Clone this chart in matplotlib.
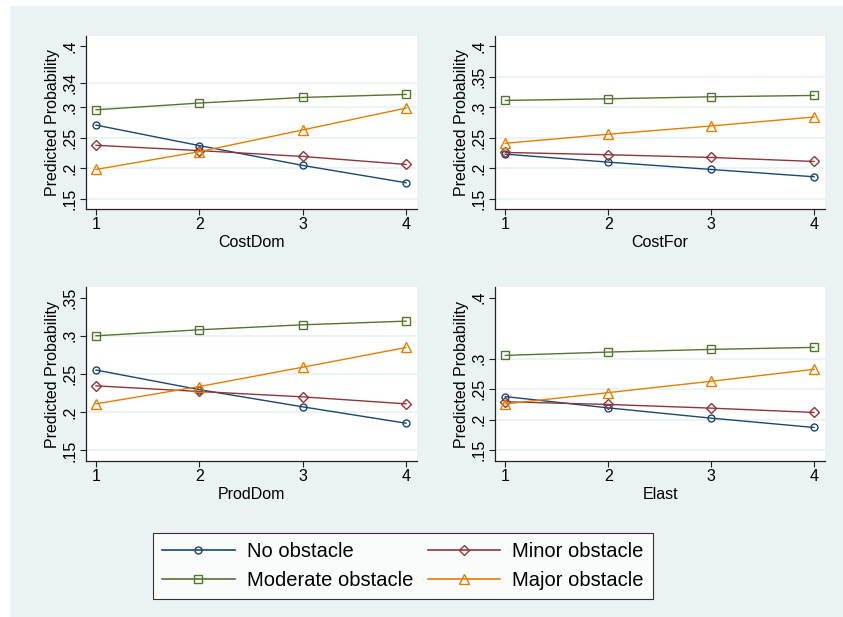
import matplotlib
matplotlib.use("Agg")
import matplotlib.pyplot as plt
from matplotlib.patches import Rectangle

plt.rcParams['font.family'] = ['Liberation Sans', 'DejaVu Sans']

# DATA
x_vals = [1, 2, 3, 4]
series_names = ['No obstacle', 'Minor obstacle', 'Moderate obstacle', 'Major obstacle']
panel_vars = ['CostDom', 'CostFor', 'ProdDom', 'Elast']

no_obst = {
    'CostDom': [0.2705, 0.2369, 0.2044, 0.1760],
    'CostFor': [0.2229, 0.2098, 0.1978, 0.1858],
    'ProdDom': [0.2552, 0.2295, 0.2070, 0.1856],
    'Elast':   [0.2380, 0.2195, 0.2027, 0.1874],
}
minor_obst = {
    'CostDom': [0.2374, 0.2287, 0.2191, 0.2060],
    'CostFor': [0.2257, 0.2219, 0.2175, 0.2109],
    'ProdDom': [0.2345, 0.2271, 0.2201, 0.2109],
    'Elast':   [0.2295, 0.2251, 0.2191, 0.2120],
}
moderate_obst = {
    'CostDom': [0.2956, 0.3066, 0.3158, 0.3208],
    'CostFor': [0.3109, 0.3136, 0.3169, 0.3191],
    'ProdDom': [0.3000, 0.3079, 0.3144, 0.3192],
    'Elast':   [0.3055, 0.3109, 0.3153, 0.3186],
}
major_obst = {
    'CostDom': [0.1978, 0.2270, 0.2626, 0.2984],
    'CostFor': [0.2407, 0.2555, 0.2691, 0.2838],
    'ProdDom': [0.2109, 0.2336, 0.2589, 0.2847],
    'Elast':   [0.2260, 0.2445, 0.2631, 0.2827],
}
y_ticks = {
    'CostDom': [0.15, 0.2, 0.25, 0.3, 0.34, 0.4],
    'CostFor': [0.15, 0.2, 0.25, 0.3, 0.35, 0.4],
    'ProdDom': [0.15, 0.2, 0.25, 0.3, 0.35],
    'Elast':   [0.15, 0.2, 0.25, 0.3, 0.4],
}
y_ticklabels = {
    'CostDom': ['.15', '.2', '.25', '.3', '.34', '.4'],
    'CostFor': ['.15', '.2', '.25', '.3', '.35', '.4'],
    'ProdDom': ['.15', '.2', '.25', '.3', '.35'],
    'Elast':   ['.15', '.2', '.25', '.3', '.4'],
}
y_limits = {
    'CostDom': (0.133, 0.4165),
    'CostFor': (0.133, 0.4165),
    'ProdDom': (0.1365, 0.3635),
    'Elast':   (0.133, 0.417),
}

# STYLE
W, H = 843, 617
bg = '#EAF2F3'
colors = ['#1A476F', '#90353B', '#55752F', '#E37E00']
markers = ['o', 'D', 's', '^']
msizes = [5, 5.5, 6, 6.5]
all_data = [no_obst, minor_obst, moderate_obst, major_obst]

fig = plt.figure(figsize=(W / 100, H / 100), dpi=100)
fig.patch.set_facecolor('white')
fig.patches.append(Rectangle((10 / W, 0), 1 - 10 / W, 1 - 6 / H, transform=fig.transFigure,
                             facecolor=bg, edgecolor='none', zorder=-10))

# axes boxes in pixels: left, top, right, bottom
boxes = [(86, 36, 417, 209), (495.3, 36, 825, 209),
         (86, 287.3, 417, 460.7), (495.3, 287.3, 825, 460.7)]

for i, var in enumerate(panel_vars):
    l, t, r, b = boxes[i]
    ax = fig.add_axes([l / W, 1 - b / H, (r - l) / W, (b - t) / H])
    ax.set_facecolor('white')
    for sp in ['top', 'right']:
        ax.spines[sp].set_visible(False)
    for sp in ['left', 'bottom']:
        ax.spines[sp].set_color('#222222')
        ax.spines[sp].set_linewidth(0.9)
    yt = y_ticks[var]
    for v in yt[:-1]:
        ax.axhline(v, color=bg, linewidth=1.3, zorder=0)
    for k in range(4):
        ax.plot(x_vals, all_data[k][var], color=colors[k], marker=markers[k],
                markersize=msizes[k], markerfacecolor='none', markeredgecolor=colors[k],
                markeredgewidth=1.0, linewidth=1.0, zorder=3)
    ax.set_xlim(0.903, 4.106)
    ax.set_ylim(*y_limits[var])
    ax.set_xticks(x_vals)
    ax.set_xticklabels([str(v) for v in x_vals], fontsize=11.5)
    ax.set_yticks(yt)
    ax.set_yticklabels(y_ticklabels[var], fontsize=11.5, rotation=90, va='center')
    ax.tick_params(direction='out', length=4, width=0.8, color='#222222', pad=2)
    ax.set_xlabel(var, fontsize=11.5, labelpad=2)
    ax.set_ylabel('Predicted Probability', fontsize=11.5, labelpad=2)

handles = []
for k in range(4):
    h, = plt.plot([], [], color=colors[k], marker=markers[k], markersize=msizes[k],
                  markerfacecolor='none', markeredgecolor=colors[k], markeredgewidth=1.0,
                  linewidth=1.2)
    handles.append(h)
order = [0, 2, 1, 3]
leg = fig.legend([handles[k] for k in order], [series_names[k] for k in order],
                 ncol=2, loc='lower left',
                 bbox_to_anchor=(153 / W, 1 - 599.3 / H, 500 / W, 68.6 / H),
                 mode='expand', fontsize=14.5, frameon=True, fancybox=False,
                 edgecolor='black', handlelength=3.6, handletextpad=0.6,
                 columnspacing=1.5, labelspacing=0.5, borderaxespad=0, borderpad=0.45)
leg.get_frame().set_linewidth(0.8)

plt.savefig('out.png', dpi=100, facecolor=fig.get_facecolor())
